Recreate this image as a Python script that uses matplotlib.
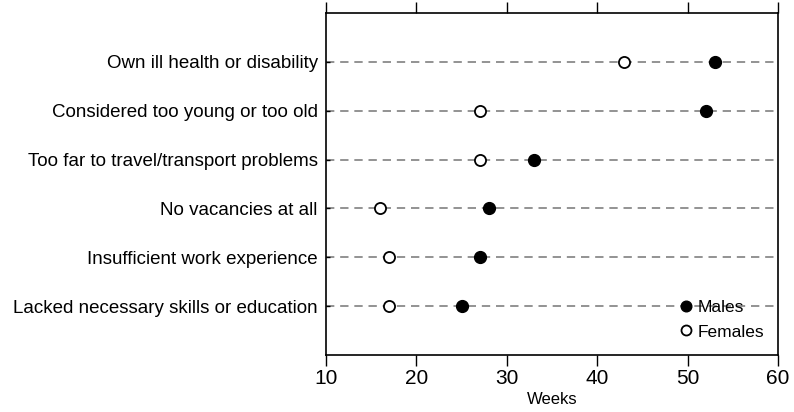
import matplotlib.pyplot as plt

plt.rcParams["font.family"] = ["Liberation Sans", "DejaVu Sans"]

# Data (weeks)
reasons = [
    "Lacked necessary skills or education",
    "Insufficient work experience",
    "No vacancies at all",
    "Too far to travel/transport problems",
    "Considered too young or too old",
    "Own ill health or disability",
]
males = [25, 27, 28, 33, 52, 53]
females = [17, 17, 16, 27, 27, 43]
xticks = [10, 20, 30, 40, 50, 60]

fig = plt.figure(figsize=(7.94, 4.12), dpi=100)
ax = fig.add_axes([326 / 794, 1 - 355 / 412, 452 / 794, 342 / 412])

ypos = list(range(len(reasons)))
for y in ypos:
    ax.axhline(y, color="#808080", linestyle=(0, (5, 3.5)), linewidth=1.2, zorder=1)

ax.plot(males, ypos, "o", color="black", markersize=8.5, linestyle="none",
        label="Males", zorder=3)
ax.plot(females, ypos, "o", markerfacecolor="white", markeredgecolor="black",
        markeredgewidth=1.3, markersize=8, linestyle="none", label="Females", zorder=3)

ax.set_xlim(10, 60)
ax.set_ylim(-1, 6)
ax.set_xticks(xticks)
ax.set_yticks(ypos)
ax.set_yticklabels(reasons, fontsize=13.5)
ax.tick_params(axis="x", direction="out", top=True, labeltop=False, labelsize=15,
               length=8, width=1, pad=2)
ax.tick_params(axis="y", direction="in", length=3, width=1, pad=6)
for s in ax.spines.values():
    s.set_linewidth(1.2)
ax.set_xlabel("Weeks", fontsize=12, labelpad=3)

ax.legend(loc="lower right", frameon=False, fontsize=12.5, handletextpad=-0.35,
          labelspacing=0.55, borderaxespad=0.0, markerscale=0.9,
          bbox_to_anchor=(0.985, 0.025))

fig.savefig("out.png", dpi=100)
